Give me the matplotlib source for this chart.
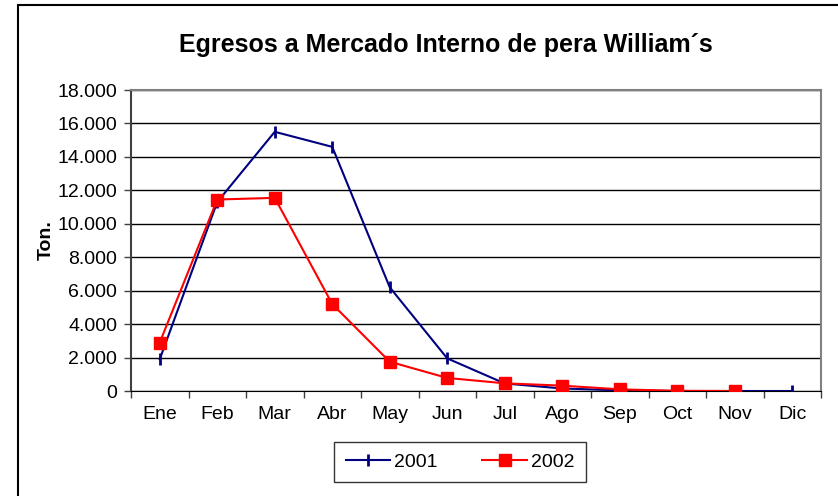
import matplotlib.pyplot as plt
import matplotlib.ticker as mtick
from matplotlib.patches import Rectangle

plt.rcParams['font.family'] = ['Liberation Sans', 'DejaVu Sans']

# data
months = ['Ene', 'Feb', 'Mar', 'Abr', 'May', 'Jun', 'Jul', 'Ago', 'Sep', 'Oct', 'Nov', 'Dic']
y2001 = [1900, 11300, 15500, 14600, 6200, 1950, 450, 150, 40, 0, 0, 0]
y2002 = [2900, 11450, 11550, 5200, 1750, 780, 460, 320, 100, 10, 0]

fig = plt.figure(figsize=(8.38, 4.96), dpi=100)
ax = fig.add_axes([131/838, 1 - 391/496, (821 - 131)/838, (391 - 90)/496])

# outer chart border
fig.patches.append(Rectangle((18/838, -0.05), 1.1, 1 - 5/496 + 0.05,
                             transform=fig.transFigure, fill=False,
                             edgecolor='black', linewidth=1.5))

x1 = list(range(len(y2001)))
x2 = list(range(len(y2002)))
ax.plot(x1, y2001, color='#000080', linewidth=1.5, marker='|',
        markersize=8, markeredgewidth=2, label='2001', zorder=3)
ax.plot(x2, y2002, color='#ff0000', linewidth=1.5, marker='s',
        markersize=8, label='2002', zorder=4)

ax.set_xlim(-0.5, len(months) - 0.5)
ax.set_ylim(0, 18000)

# y axis
ax.yaxis.set_major_locator(mtick.MultipleLocator(2000))
ax.yaxis.set_major_formatter(mtick.FuncFormatter(
    lambda v, p: '{:,.0f}'.format(v).replace(',', '.')))
ax.grid(axis='y', color='black', linewidth=1)
ax.set_axisbelow(True)

# x axis: ticks on category boundaries, labels centred
ax.set_xticks([i - 0.5 for i in range(len(months) + 1)])
ax.set_xticklabels([])
ax.set_xticks(range(len(months)), minor=True)
ax.set_xticklabels(months, minor=True)
ax.tick_params(axis='x', which='minor', length=0, pad=11, labelsize=14)
ax.tick_params(axis='x', which='major', length=5, width=1, color='#404040')
ax.tick_params(axis='y', length=5, width=1, color='#404040', labelsize=14, pad=5)

ax.spines['left'].set_color('#404040')
ax.spines['left'].set_linewidth(1.5)
ax.spines['bottom'].set_color('black')
ax.spines['top'].set_color('#808080')
ax.spines['right'].set_color('#808080')
ax.spines['top'].set_linewidth(1.5)
ax.spines['right'].set_linewidth(1.5)

ax.set_ylabel('Ton.', fontsize=14, fontweight='bold', labelpad=2)
fig.text(446/838, 1 - 45/496, 'Egresos a Mercado Interno de pera William´s',
         ha='center', va='center', fontsize=18, fontweight='bold')

leg = fig.legend(loc='center', bbox_to_anchor=(460/838, 1 - 462/496), ncol=2,
                 frameon=True, fancybox=False, edgecolor='black', fontsize=14,
                 handlelength=2.3, handletextpad=0.2, columnspacing=2.3,
                 borderpad=0.6)
leg.get_frame().set_linewidth(1)

fig.savefig('out.png', dpi=100)
